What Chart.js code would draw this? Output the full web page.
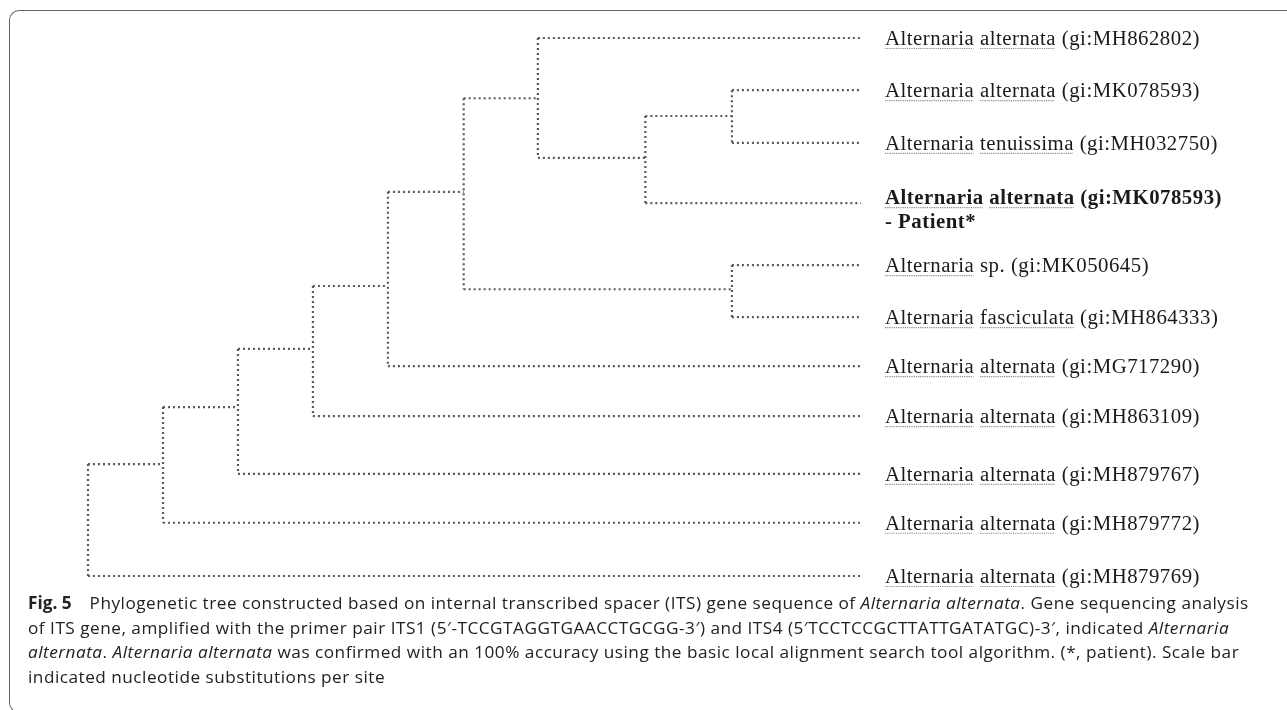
<!DOCTYPE html>
<html>
<head>
<meta charset="utf-8">
<script src="https://cdn.jsdelivr.net/npm/chart.js@4.4.1/dist/chart.umd.min.js"></script>
<style>
  html, body { margin: 0; padding: 0; background: #fff; }
  #wrap { position: relative; width: 1287px; height: 710px; overflow: hidden; }
  #frame {
    position: absolute; left: 9px; top: 10px; width: 1300px; height: 700px;
    border-left: 1.5px solid #666; border-top: 1.5px solid #666; border-bottom: 1.5px solid #666;
    border-top-left-radius: 10px; border-bottom-left-radius: 9px;
  }
  #tree { position: absolute; left: 0; top: 0; }
  #caption {
    position: absolute; left: 28px; top: 591px; width: 1250px;
    font-family: "Open Sans", sans-serif; font-size: 17.2px; line-height: 24.5px; color: #222;
    letter-spacing: 0.5px; white-space: nowrap;
  }
  #caption b { font-weight: 700; margin-right: 18px; letter-spacing: 0; }
</style>
</head>
<body>
<div id="wrap">
  <div id="frame"></div>
  <canvas id="tree" width="1287" height="710"></canvas>
  <div id="caption">
    <div><b>Fig. 5</b>Phylogenetic tree constructed based on internal transcribed spacer (ITS) gene sequence of <i>Alternaria alternata</i>. Gene sequencing analysis</div>
    <div>of ITS gene, amplified with the primer pair ITS1 (5′-TCCGTAGGTGAACCTGCGG-3′) and ITS4 (5′TCCTCCGCTTATTGATATGC)-3′, indicated <i>Alternaria</i></div>
    <div><i>alternata</i>. <i>Alternaria alternata</i> was confirmed with an 100% accuracy using the basic local alignment search tool algorithm. (*, patient). Scale bar</div>
    <div>indicated nucleotide substitutions per site</div>
  </div>
</div>
<script>
// leaves, top to bottom
const leafGenus = ['Alternaria', 'Alternaria', 'Alternaria', 'Alternaria', 'Alternaria', 'Alternaria',
    'Alternaria', 'Alternaria', 'Alternaria', 'Alternaria', 'Alternaria'];
const leafEpithet = ['alternata', 'alternata', 'tenuissima', 'alternata', 'sp.', 'fasciculata',
    'alternata', 'alternata', 'alternata', 'alternata', 'alternata'];
const leafAccession = ['(gi:MH862802)', '(gi:MK078593)', '(gi:MH032750)', '(gi:MK078593)', '(gi:MK050645)',
    '(gi:MH864333)', '(gi:MG717290)', '(gi:MH863109)', '(gi:MH879767)', '(gi:MH879772)', '(gi:MH879769)'];
const leafRows = [0, 0.97, 1.95, 3.07, 4.22, 5.19, 6.1, 7.03, 8.1, 9.01, 10];
const leafParent = ['C', 'A', 'A', 'B', 'E', 'E', 'F', 'G', 'H', 'I', 'root'];
const patientLeaf = 3;
const tipDepth = 10;

// internal nodes
const nodeNames = ['A', 'B', 'C', 'D', 'E', 'F', 'G', 'H', 'I', 'root'];
const nodeDepth = [8.33, 7.21, 5.82, 4.86, 8.33, 3.88, 2.91, 1.94, 0.97, 0];
const nodeRows = [1.45, 2.23, 1.12, 2.86, 4.67, 4.61, 5.78, 6.86, 7.92, 8.96];
const nodeParent = ['B', 'C', 'D', 'F', 'D', 'G', 'H', 'I', 'root', null];

function buildSegments() {
    const pts = [];
    const nodeIdx = name => nodeNames.indexOf(name);
    const kids = {};
    nodeNames.forEach(n => { kids[n] = []; });

    // horizontal branches of leaves
    leafRows.forEach((row, i) => {
        const p = nodeIdx(leafParent[i]);
        pts.push({ x: nodeDepth[p], y: row }, { x: tipDepth, y: row }, { x: tipDepth, y: null });
        kids[leafParent[i]].push(row);
    });
    // horizontal branches of internal nodes
    nodeNames.forEach((n, i) => {
        if (!nodeParent[i]) return;
        const p = nodeIdx(nodeParent[i]);
        pts.push({ x: nodeDepth[p], y: nodeRows[i] }, { x: nodeDepth[i], y: nodeRows[i] }, { x: nodeDepth[i], y: null });
        kids[nodeParent[i]].push(nodeRows[i]);
    });
    // vertical connectors
    nodeNames.forEach((n, i) => {
        const ys = kids[n];
        pts.push({ x: nodeDepth[i], y: Math.min(...ys) }, { x: nodeDepth[i], y: Math.max(...ys) }, { x: nodeDepth[i], y: null });
    });
    return pts;
}

const leafLabels = {
    id: 'leafLabels',
    afterDatasetsDraw(chart) {
        const ctx = chart.ctx;
        const xs = chart.scales.x, ys = chart.scales.y;
        const x0 = xs.getPixelForValue(tipDepth) + 24;
        ctx.save();
        ctx.fillStyle = '#1a1a1a';
        ctx.textBaseline = 'alphabetic';
        ctx.letterSpacing = '0.5px';
        leafRows.forEach((row, i) => {
            const bold = i === patientLeaf;
            ctx.font = (bold ? 'bold ' : '') + '20.8px "Liberation Serif", serif';
            let y = ys.getPixelForValue(row) + 7;
            if (bold) y -= 6;
            let x = x0;
            const parts = [
                [leafGenus[i], true],
                [' ', false],
                [leafEpithet[i], leafEpithet[i] !== 'sp.'],
                [' ' + leafAccession[i], false]
            ];
            parts.forEach(([txt, under]) => {
                ctx.fillText(txt, x, y);
                const w = ctx.measureText(txt).width;
                if (under) {
                    ctx.strokeStyle = '#8c8c8c';
                    ctx.lineWidth = 1.2;
                    ctx.setLineDash([1.2, 1]);
                    ctx.beginPath();
                    ctx.moveTo(x, y + 3.5);
                    ctx.lineTo(x + w - 1, y + 3.5);
                    ctx.stroke();
                    ctx.setLineDash([]);
                }
                x += w;
            });
            if (bold) ctx.fillText('- Patient*', x0, y + 24);
        });
        ctx.restore();
    }
};

new Chart(document.getElementById('tree').getContext('2d'), {
    type: 'scatter',
    data: {
        datasets: [{
            data: buildSegments(),
            showLine: true,
            spanGaps: false,
            borderColor: '#5a5a5a',
            borderWidth: 2.2,
            borderDash: [2, 3],
            pointRadius: 0,
            clip: false
        }]
    },
    options: {
        responsive: false,
        animation: false,
        layout: { padding: { left: 88, right: 426, top: 38, bottom: 134 } },
        scales: {
            x: { type: 'linear', min: 0, max: tipDepth, display: false },
            y: { type: 'linear', min: 0, max: 10, reverse: true, display: false }
        },
        plugins: { legend: { display: false }, tooltip: { enabled: false } }
    },
    plugins: [leafLabels]
});
</script>
</body>
</html>
